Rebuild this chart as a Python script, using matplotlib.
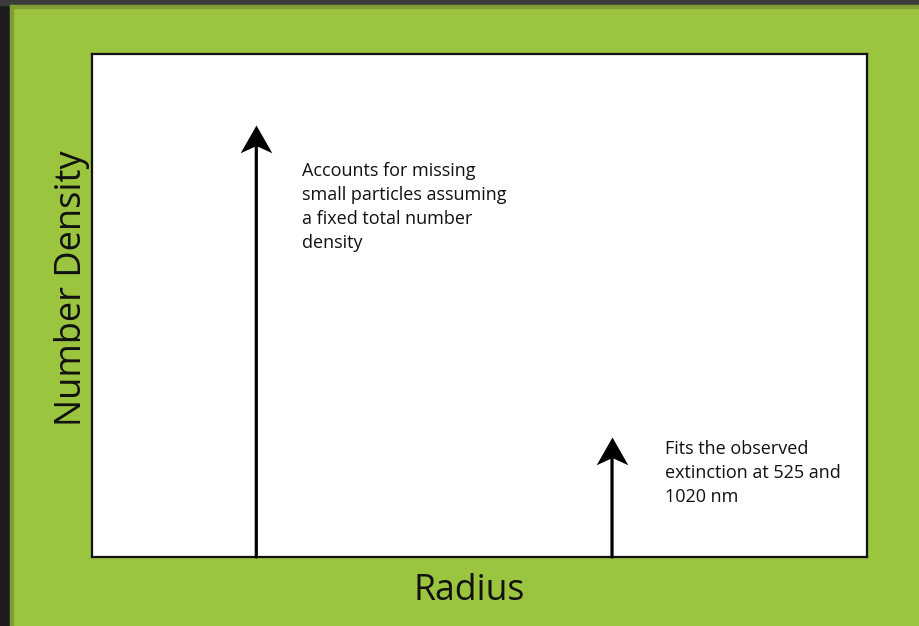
#!/usr/bin/env python3

import matplotlib
matplotlib.use('Agg')
import matplotlib.pyplot as plt
from matplotlib.path import Path
from matplotlib.patches import Rectangle

plt.rcParams['font.family'] = ['Open Sans', 'DejaVu Sans']

# Arrow positions (radius, number density), axes span 0..1 on both
arrow_radius = [0.212, 0.671]
arrow_density = [0.859, 0.239]
notes = [
    'Accounts for missing\nsmall particles assuming\na fixed total number\ndensity',
    'Fits the observed\nextinction at 525 and\n1020 nm',
]
note_xy = [(0.271, 0.785), (0.739, 0.232)]
x_label = 'Radius'
y_label = 'Number Density'

green = '#9bc43f'

fig = plt.figure(figsize=(9.19, 6.26), dpi=100, facecolor=green)

# dark frame on the left and top, with a darker green rim
W, H = 919.0, 626.0
fig.patches.append(Rectangle((0, 0), 10 / W, 1, transform=fig.transFigure, color='#1d1d1d', zorder=0))
fig.patches.append(Rectangle((0, 1 - 5 / H), 1, 5 / H, transform=fig.transFigure, color='#3c3c3c', zorder=0))
fig.patches.append(Rectangle((10 / W, 0), 3 / W, 1 - 5 / H, transform=fig.transFigure, color='#7f9f35', zorder=0))
fig.patches.append(Rectangle((10 / W, 1 - 8 / H), 1, 3 / H, transform=fig.transFigure, color='#7f9f35', zorder=0))

ax = fig.add_axes([92 / W, 1 - 557 / H, (867 - 92) / W, (557 - 54) / H])
ax.set_facecolor('white')
ax.set_xlim(0, 1)
ax.set_ylim(0, 1)
ax.set_xticks([])
ax.set_yticks([])
for s in ax.spines.values():
    s.set_linewidth(1.6)
    s.set_color('#111111')

# stealth-style arrowhead, tip at origin
head = Path([(0, 0), (-0.57, -1), (0, -0.74), (0.57, -1), (0, 0)],
            [Path.MOVETO, Path.LINETO, Path.LINETO, Path.LINETO, Path.CLOSEPOLY])

for r, d in zip(arrow_radius, arrow_density):
    ax.annotate('', xy=(r, d), xytext=(r, 0),
                arrowprops=dict(arrowstyle='-', lw=2.3, color='black',
                                shrinkA=0, shrinkB=8))
    ax.plot([r], [d], marker=head, markersize=40, color='black',
            markeredgewidth=0, clip_on=False)

for txt, (tx, ty) in zip(notes, note_xy):
    ax.text(tx, ty, txt, ha='left', va='top', fontsize=13, linespacing=1.42,
            color='#111111')

fig.text(469 / W, 1 - 600 / H, x_label, ha='center', va='baseline',
         fontsize=25.7, color='#111111')
fig.text(72 / W, 1 - 288 / H, y_label, ha='center', va='center',
         rotation=90, fontsize=26, color='#111111')

fig.savefig('out.png', dpi=100, facecolor=fig.get_facecolor())
